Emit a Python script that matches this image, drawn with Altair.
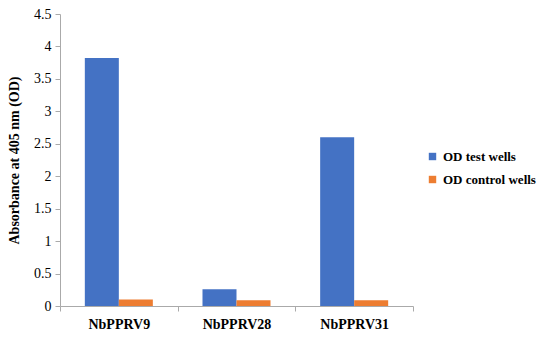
import altair as alt
import pandas as pd

categories = ["NbPPRV9", "NbPPRV28", "NbPPRV31"]
series = ["OD test wells", "OD control wells"]
test_values = [3.82, 0.26, 2.60]
control_values = [0.10, 0.09, 0.09]
colors = ["#4472C4", "#ED7D31"]

rows = []
for c, t, k in zip(categories, test_values, control_values):
    rows.append({"cat": c, "series": series[0], "value": t})
    rows.append({"cat": c, "series": series[1], "value": k})
df = pd.DataFrame(rows)

FONT = "'Times New Roman', 'Liberation Serif', 'DejaVu Serif', serif"

chart = alt.Chart(df).mark_bar().encode(
    x=alt.X("cat:N", sort=categories, title=None,
            scale=alt.Scale(paddingInner=0, paddingOuter=0),
            axis=alt.Axis(labelAngle=0, labelFontWeight="bold",
                          labelFontSize=14, labelColor="black", labelPadding=6,
                          tickBand="extent", tickColor="#aaaaaa", tickSize=5,
                          domainColor="#aaaaaa", grid=False)),
    xOffset=alt.XOffset("series:N", sort=series,
                        scale=alt.Scale(paddingInner=0, paddingOuter=0.73)),
    y=alt.Y("value:Q", title="Absorbance at 405 nm (OD)",
            scale=alt.Scale(domain=[0, 4.5], nice=False),
            axis=alt.Axis(values=[0, 0.5, 1, 1.5, 2, 2.5, 3, 3.5, 4, 4.5],
                          format="~g", labelFontSize=14,
                          labelColor="black", labelPadding=4,
                          titleFontWeight="bold", titleFontSize=14,
                          titleColor="black", titlePadding=12,
                          tickColor="#aaaaaa", tickSize=5,
                          domainColor="#aaaaaa", grid=False)),
    color=alt.Color("series:N", sort=series,
                    scale=alt.Scale(domain=series, range=colors),
                    legend=alt.Legend(title=None, orient="none", legendX=366, legendY=136,
                                      labelFontWeight="bold", labelOffset=4,
                                      labelFontSize=13, labelColor="black",
                                      labelLimit=200,
                                      symbolType="square", symbolSize=55,
                                      symbolStrokeWidth=0, rowPadding=9)),
).properties(
    width=353, height=292,
    autosize=alt.AutoSizeParams(type="none"),
    padding={"left": 52, "top": 6, "right": 128, "bottom": 24},
).configure(font=FONT).configure_axis(
    labelFont=FONT, titleFont=FONT
).configure_legend(labelFont=FONT).configure_view(stroke=None)

chart.save("out.html", embed_options={"renderer": "svg", "actions": False})
